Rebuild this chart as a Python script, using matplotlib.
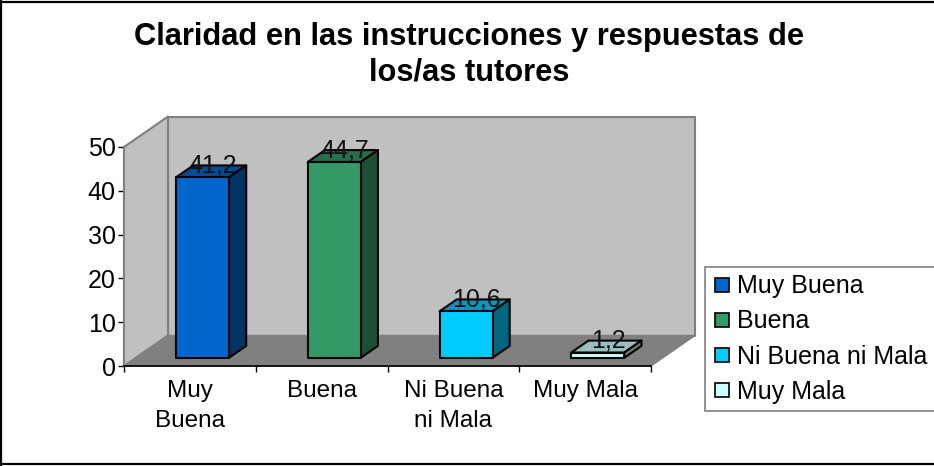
import matplotlib
matplotlib.use("Agg")
import matplotlib.pyplot as plt
from matplotlib.lines import Line2D

plt.rcParams['font.family'] = ['Liberation Sans', 'DejaVu Sans']

categorias = ['Muy\nBuena', 'Buena', 'Ni Buena\nni Mala', 'Muy Mala']
leyenda = ['Muy Buena', 'Buena', 'Ni Buena ni Mala', 'Muy Mala']
valores = [41.2, 44.7, 10.6, 1.2]
colores = ['#0066CC', '#339966', '#00CCFF', '#CCFFFF']
lados = ['#003366', '#1C4F35', '#006680', '#668080']
techos = ['#004C99', '#266F4C', '#0099BF', '#99BFBF']
y_ticks = [0, 10, 20, 30, 40, 50]

W, H = 934, 466
fig = plt.figure(figsize=(W / 100, H / 100), dpi=100)
ax = fig.add_axes([124 / W, 1 - 366 / H, 527 / W, 219 / H])
ax.set_xlim(0, 4)
ax.set_ylim(0, 50)

# depth of the fake 3d box, in data units
DX = 44 / (527 / 4)
DY = 30.5 / (219 / 50)


def p(x, y, d):
    return x + d * DX, y + d * DY


def cara(puntos, color, borde, lw=0, z=1):
    xs = [a[0] for a in puntos]
    ys = [a[1] for a in puntos]
    ax.fill(xs, ys, facecolor=color, edgecolor=borde, linewidth=lw, zorder=z, clip_on=False, joinstyle='round')


# walls and floor
cara([p(0, 0, 1), p(4, 0, 1), p(4, 50, 1), p(0, 50, 1)], '#C0C0C0', '#808080', 1.5)
cara([p(0, 0, 0), p(0, 0, 1), p(0, 50, 1), p(0, 50, 0)], '#C0C0C0', '#808080', 1.5)
cara([p(0, 0, 0), p(4, 0, 0), p(4, 0, 1), p(0, 0, 1)], '#808080', '#808080', 1)

# bars
ancho = 53 / (527 / 4)
d0 = 0.27
d1 = 0.66
for i, v in enumerate(valores):
    x0 = i + 0.5 - ancho / 2 + 0.006
    x1 = x0 + ancho
    cara([p(x0, v, d0), p(x1, v, d0), p(x1, v, d1), p(x0, v, d1)], techos[i], 'black', 1.5, 3)
    cara([p(x1, 0, d0), p(x1, 0, d1), p(x1, v, d1), p(x1, v, d0)], lados[i], 'black', 1.5, 3)
    cara([p(x0, 0, d0), p(x1, 0, d0), p(x1, v, d0), p(x0, v, d0)], colores[i], 'black', 1.5, 4)
    tx, ty = p((x0 + x1) / 2, v, (d0 + d1) / 2)
    ax.annotate(f"{v:.1f}".replace('.', ','), (tx, ty), xytext=(2, 6), textcoords='offset pixels',
                ha='center', va='center', fontsize=18, color='#111111', zorder=6, annotation_clip=False)

# axis
for s in ['top', 'right']:
    ax.spines[s].set_visible(False)
ax.spines['left'].set_color('#808080')
ax.spines['left'].set_linewidth(1.5)
ax.spines['bottom'].set_color('black')
ax.spines['bottom'].set_linewidth(1.2)
ax.patch.set_alpha(0)
ax.set_yticks(y_ticks)
ax.set_xticks([0, 1, 2, 3, 4])
ax.set_xticklabels([])
ax.set_xticks([0.5, 1.5, 2.5, 3.5], minor=True)
ax.set_xticklabels(categorias, minor=True, fontsize=17.5, linespacing=1.47)
ax.tick_params(axis='x', which='major', length=4, width=1, color='black')
ax.tick_params(axis='x', which='minor', length=0, pad=10)
ax.tick_params(axis='y', length=4, width=1, color='black', labelsize=18, pad=2)

fig.suptitle('Claridad en las instrucciones y respuestas de\nlos/as tutores', x=469 / W, y=1 - 55 / H,
             va='center', fontsize=22.2, fontweight='bold', linespacing=1.23)

handles = [Line2D([], [], linestyle='none', marker='s', markersize=9.5, markerfacecolor=c,
                  markeredgecolor='black', markeredgewidth=1.2) for c in colores]
leg = fig.legend(handles, leyenda, loc='upper left', bbox_to_anchor=(705 / W, 1 - 267 / H), fontsize=18,
                 frameon=True, fancybox=False, edgecolor='#808080', framealpha=1, borderaxespad=0, numpoints=1,
                 handlelength=0.76, handletextpad=0.22, labelspacing=0.44, borderpad=0.3)
leg.get_frame().set_linewidth(1.2)

# chart border, there is none on the right
for xs, ys in [([0.001, 0.001], [0, 1]), ([0, 1], [0.996, 0.996]), ([0, 1], [1 - 464 / H, 1 - 464 / H])]:
    fig.add_artist(Line2D(xs, ys, transform=fig.transFigure, color='black', linewidth=1.6))

fig.savefig('out.png', dpi=100)
